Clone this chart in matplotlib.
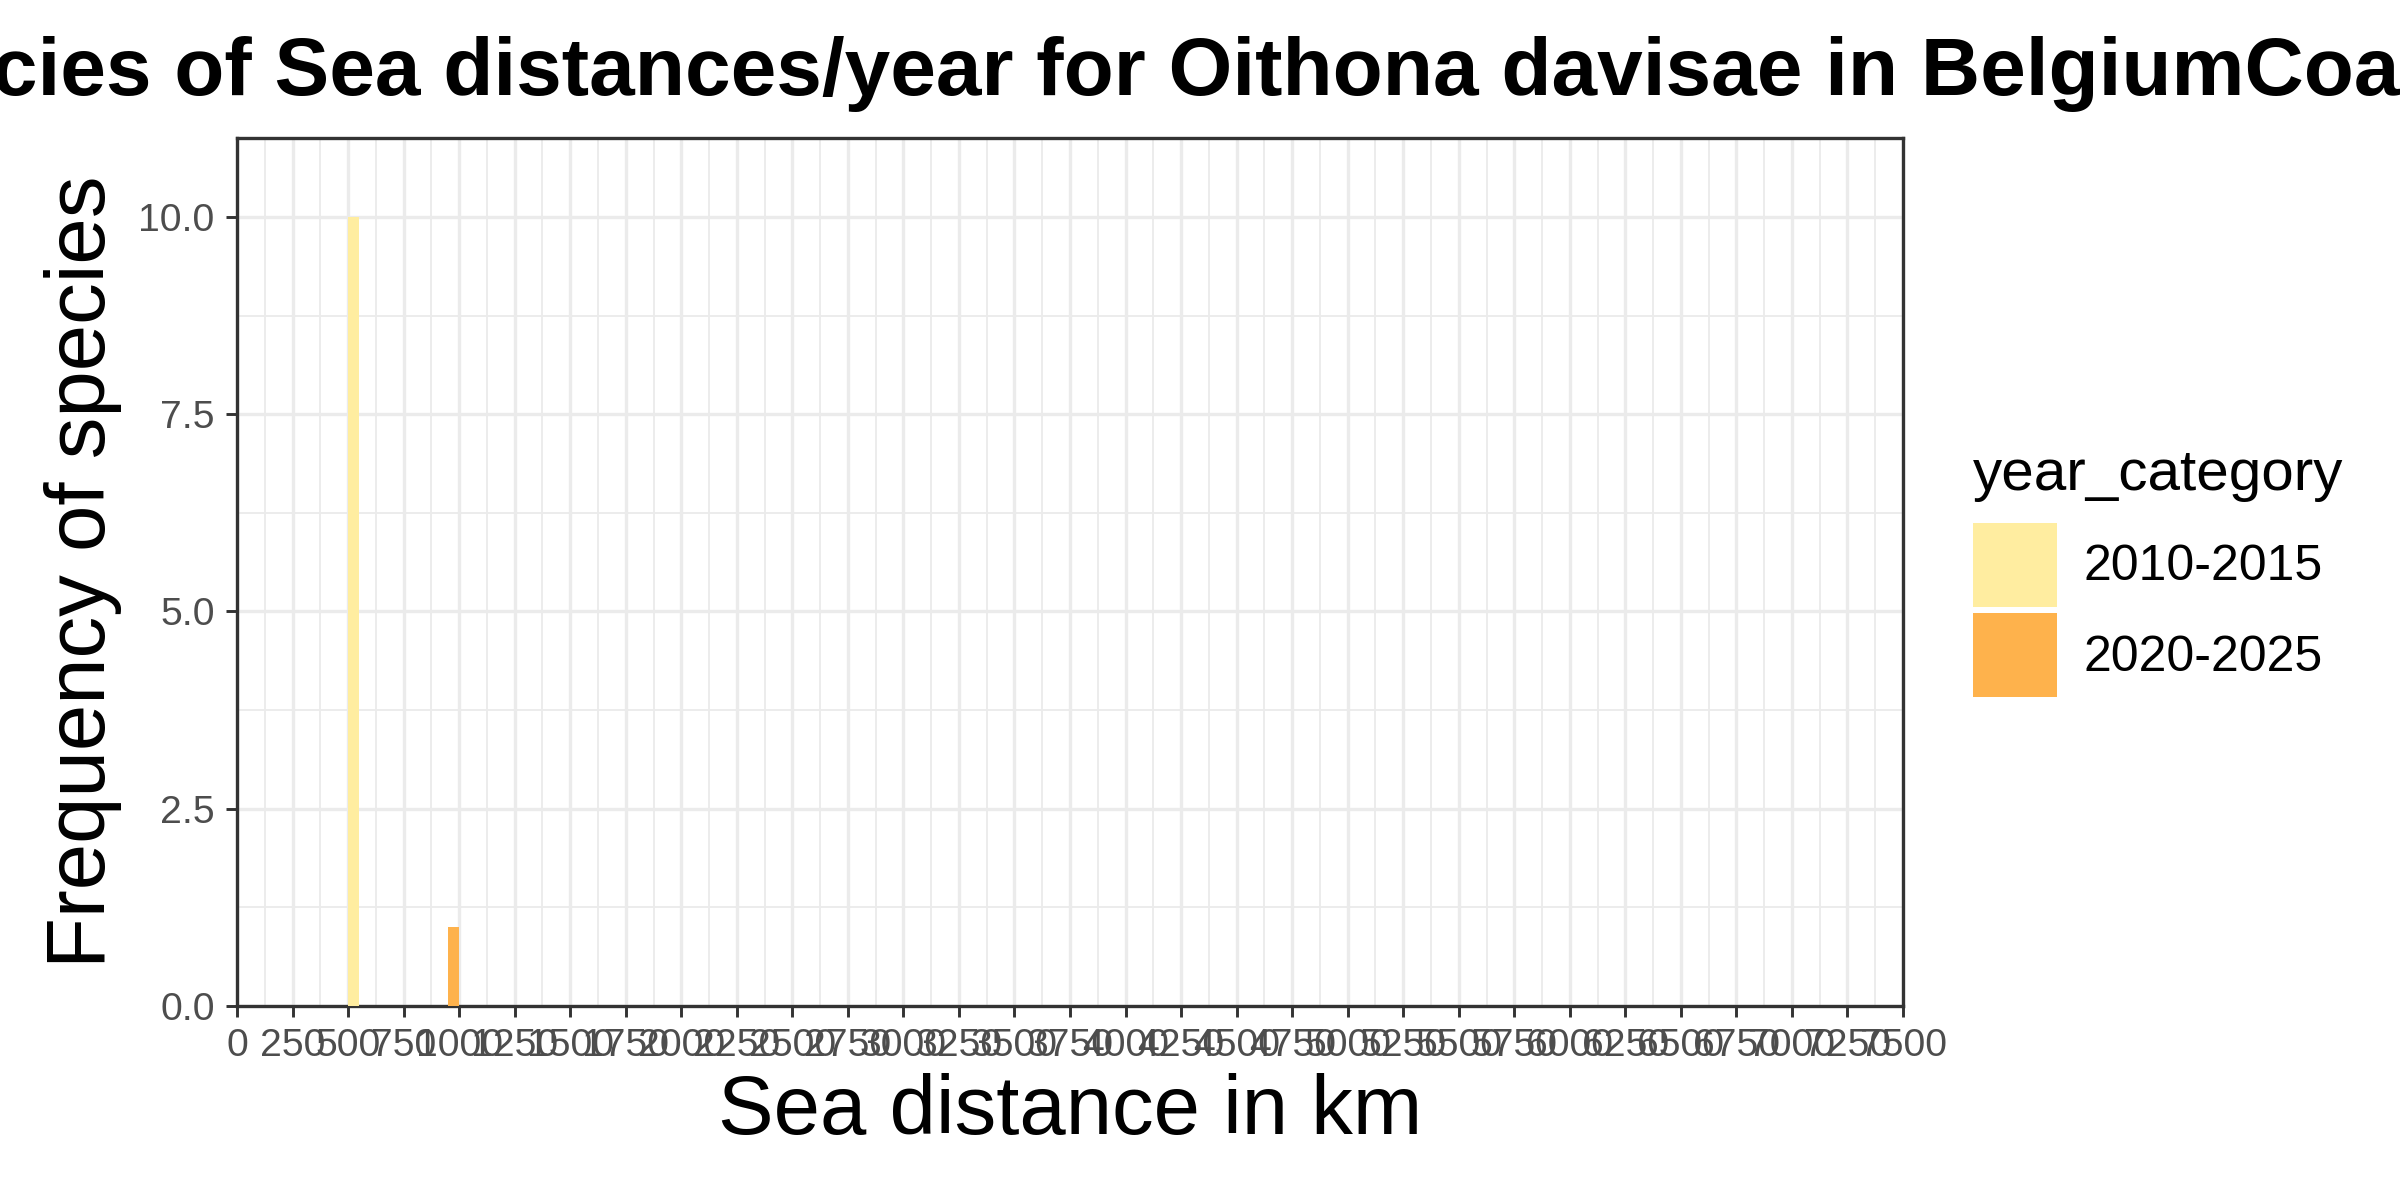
import numpy as np
import matplotlib.pyplot as plt
from matplotlib.patches import Patch

year_category = ["2010-2015", "2020-2025"]
bin_start = [500, 950]      # km, inicio de cada bin
bin_width = 50              # km
frecuencias = [10, 1]
colores = ["#FFEDA0", "#FEB24C"]

x_ticks = np.arange(0, 7501, 250)
y_ticks = [0, 2.5, 5.0, 7.5, 10.0]
y_tick_labels = ["0.0", "2.5", "5.0", "7.5", "10.0"]

plt.rcParams['font.family'] = ['Liberation Sans', 'DejaVu Sans']

fig = plt.figure(figsize=(8, 4), dpi=300)
ax = fig.add_axes([237/2400, 1 - 1006/1200, (1903 - 237)/2400, (1006 - 138)/1200])

for x0, h, c in zip(bin_start, frecuencias, colores):
    ax.bar(x0, h, width=bin_width, align="edge", color=c, linewidth=0, zorder=3)

ax.set_xlim(0, 7500)
ax.set_ylim(0, 11)

# rejilla estilo theme_bw
ax.set_xticks(x_ticks)
ax.set_xticklabels([str(v) for v in x_ticks])
ax.set_xticks(x_ticks[:-1] + 125, minor=True)
ax.set_yticks(y_ticks)
ax.set_yticklabels(y_tick_labels)
ax.set_yticks([1.25, 3.75, 6.25, 8.75], minor=True)
ax.grid(which="major", color="#EBEBEB", linewidth=0.8, zorder=0)
ax.grid(which="minor", color="#EBEBEB", linewidth=0.45, zorder=0)
ax.set_axisbelow(True)

for axis in ['top', 'bottom', 'left', 'right']:
    ax.spines[axis].set_color("#333333")
    ax.spines[axis].set_linewidth(0.8)

ax.tick_params(axis="both", which="major", length=2.75, width=0.7, color="#333333",
               labelsize=9.4, labelcolor="#4D4D4D", pad=2.6)
ax.tick_params(axis="both", which="minor", length=0)

ax.set_xlabel("Sea distance in km", fontsize=20, labelpad=2)
ax.set_ylabel("Frequency of species", fontsize=20, labelpad=4)

# titulo centrado sobre el panel (se corta por los lados como en el original)
fig.text((237 + 1903) / 2 / 2400, 1 - 95/1200,
         "Frequencies of Sea distances/year for Oithona davisae in BelgiumCoast",
         ha="center", va="baseline", fontsize=19.7, fontweight="bold")

handles = [Patch(facecolor=c, edgecolor="none") for c in colores]
leg = fig.legend(handles, year_category, title="year_category",
                 loc="upper left", bbox_to_anchor=(1973/2400, 1 - 448/1200),
                 frameon=False, fontsize=12, title_fontsize=14,
                 handlelength=1.68, handleheight=2.21, handletextpad=0.52,
                 labelspacing=0.12, borderpad=0, borderaxespad=0,
                 alignment="left")
# separacion entre titulo y cajas como en ggplot
leg._legend_box.sep = 5

fig.savefig("out.png", dpi=300)
